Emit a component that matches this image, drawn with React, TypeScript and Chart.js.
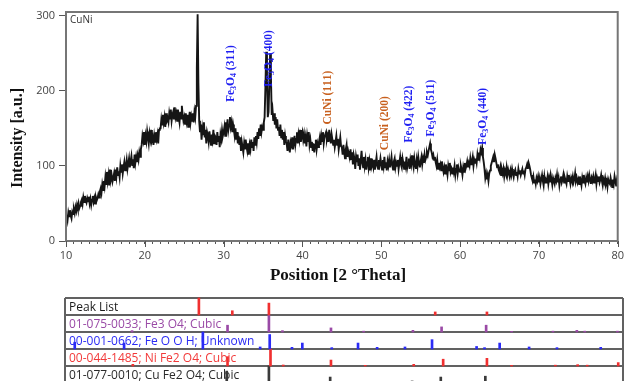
import React, { useEffect, useRef } from 'react';
import { Chart, registerables } from 'chart.js';

Chart.register(...registerables);

// ---------------- main XRD pattern ----------------
const X_START = 10;
const X_STEP = 0.1;
// intensity every 0.1 deg 2theta, 10.0 .. 80.0
const INTENSITY: number[] = [
  30, 35, 28, 38, 33, 41, 34, 30, 39, 36, // 10
  42, 37, 45, 40, 48, 43, 50, 44, 47, 52, // 11
  55, 49, 58, 52, 60, 54, 51, 57, 53, 59, // 12
  50, 56, 48, 55, 60, 52, 57, 50, 58, 54, // 13
  57, 62, 58, 66, 70, 64, 75, 68, 80, 73, // 14
  85, 76, 92, 80, 88, 74, 95, 82, 87, 79, // 15
  84, 90, 80, 95, 86, 98, 88, 93, 85, 100, // 16
  92, 102, 90, 98, 105, 94, 100, 108, 96, 103, // 17
  110, 98, 106, 113, 101, 109, 97, 115, 104, 112, // 18
  105, 114, 108, 118, 112, 122, 128, 140, 134, 145, // 19
  128, 140, 133, 146, 138, 130, 143, 136, 148, 134, // 20
  138, 128, 140, 132, 145, 136, 142, 130, 148, 150, // 21
  150, 162, 155, 168, 158, 165, 152, 170, 160, 163, // 22
  158, 170, 163, 175, 160, 168, 172, 162, 178, 165, // 23
  170, 160, 175, 165, 158, 172, 163, 180, 168, 160, // 24
  165, 156, 170, 160, 168, 152, 163, 172, 158, 166, // 25
  160, 170, 158, 172, 165, 180, 230, 302, 210, 160, // 26
  145, 155, 135, 150, 142, 158, 138, 148, 130, 145, // 27
  140, 132, 146, 136, 128, 142, 135, 148, 130, 140, // 28
  138, 128, 145, 133, 140, 125, 142, 136, 148, 140, // 29
  145, 152, 140, 158, 150, 162, 148, 155, 165, 152, // 30
  158, 145, 155, 148, 140, 150, 135, 145, 130, 140, // 31
  128, 138, 120, 132, 125, 118, 130, 122, 135, 126, // 32
  120, 130, 115, 128, 122, 135, 125, 132, 120, 138, // 33
  128, 140, 132, 145, 136, 150, 140, 155, 145, 152, // 34
  148, 158, 165, 205, 252, 215, 165, 172, 210, 250, // 35
  220, 168, 175, 160, 170, 155, 165, 150, 162, 148, // 36
  152, 140, 155, 138, 148, 135, 145, 128, 140, 132, // 37
  130, 120, 135, 125, 118, 132, 128, 138, 122, 130, // 38
  140, 128, 136, 145, 130, 142, 135, 148, 132, 140, // 39
  145, 135, 142, 130, 138, 126, 140, 132, 145, 128, // 40
  135, 125, 132, 120, 130, 118, 128, 135, 122, 130, // 41
  125, 132, 138, 128, 140, 133, 145, 130, 138, 142, // 42
  145, 135, 140, 132, 148, 138, 130, 142, 135, 128, // 43
  135, 125, 132, 140, 128, 136, 122, 130, 138, 126, // 44
  125, 115, 128, 118, 110, 122, 128, 112, 120, 115, // 45
  112, 122, 108, 118, 102, 115, 110, 96, 112, 105, // 46
  115, 100, 110, 95, 108, 120, 104, 98, 112, 100, // 47
  108, 95, 105, 112, 98, 106, 94, 110, 100, 104, // 48
  98, 108, 95, 104, 112, 100, 96, 108, 102, 110, // 49
  102, 95, 108, 100, 112, 98, 105, 94, 106, 100, // 50
  108, 98, 104, 112, 100, 95, 106, 110, 98, 104, // 51
  100, 108, 96, 104, 112, 102, 98, 110, 104, 96, // 52
  106, 100, 112, 98, 104, 110, 96, 108, 102, 114, // 53
  104, 98, 110, 102, 96, 108, 100, 112, 104, 98, // 54
  106, 112, 102, 110, 104, 115, 108, 112, 118, 114, // 55
  120, 125, 130, 122, 118, 112, 115, 108, 112, 105, // 56
  100, 108, 96, 104, 98, 102, 94, 106, 98, 92, // 57
  98, 90, 102, 95, 88, 100, 94, 104, 92, 96, // 58
  90, 98, 92, 100, 88, 96, 102, 90, 98, 94, // 59
  92, 100, 95, 88, 98, 92, 104, 96, 100, 106, // 60
  98, 104, 100, 110, 102, 106, 112, 100, 108, 104, // 61
  110, 104, 115, 108, 118, 112, 122, 118, 124, 112, // 62
  105, 96, 84, 90, 82, 88, 80, 90, 94, 100, // 63
  104, 108, 112, 105, 115, 110, 104, 98, 102, 95, // 64
  92, 98, 88, 95, 90, 96, 86, 94, 90, 98, // 65
  88, 95, 90, 86, 94, 88, 96, 90, 85, 92, // 66
  95, 88, 92, 86, 96, 90, 94, 88, 92, 96, // 67
  90, 94, 88, 96, 98, 102, 96, 104, 100, 95, // 68
  88, 84, 80, 86, 78, 82, 76, 84, 80, 86, // 69
  78, 84, 76, 82, 88, 80, 74, 86, 78, 82, // 70
  80, 86, 76, 84, 78, 88, 82, 75, 84, 80, // 71
  76, 84, 80, 88, 78, 84, 74, 82, 86, 78, // 72
  82, 88, 78, 84, 80, 76, 86, 80, 88, 82, // 73
  76, 84, 80, 86, 78, 82, 90, 80, 84, 78, // 74
  82, 76, 86, 80, 74, 84, 78, 88, 80, 76, // 75
  84, 78, 86, 80, 88, 82, 76, 84, 80, 86, // 76
  78, 82, 88, 76, 84, 80, 86, 78, 82, 88, // 77
  80, 74, 82, 78, 84, 76, 80, 72, 82, 78, // 78
  76, 84, 78, 72, 82, 76, 86, 80, 74, 82, // 79
  88, // 80
];

const X_MIN = 10;
const X_MAX = 80;
const Y_MIN = 0;
const Y_MAX = 305;
const X_MAJOR_TICKS = [10, 20, 30, 40, 50, 60, 70, 80];
const Y_TICKS = [0, 100, 200, 300];

const SAMPLE_NAME = 'CuNi';
const X_TITLE = 'Position [2 °Theta]';
const Y_TITLE = 'Intensity [a.u.]';

// peak annotations ("_" marks a subscript digit)
const ANNOT_LABELS = ['Fe_3O_4 (311)', 'Fe_3O_4 (400)', 'CuNi (111)', 'CuNi (200)', 'Fe_3O_4 (422)', 'Fe_3O_4 (511)', 'Fe_3O_4 (440)'];
const ANNOT_POS = [30.9, 35.8, 43.2, 50.5, 53.5, 56.3, 62.9];
const ANNOT_BASE = [185, 205, 155, 121, 131, 139, 128];
const ANNOT_COLORS = ['#1f1ff2', '#1f1ff2', '#c8601e', '#c8601e', '#1f1ff2', '#1f1ff2', '#1f1ff2'];

// ---------------- peak list / reference patterns ----------------
const ROW_LABELS = [
  'Peak List',
  '01-075-0033; Fe3 O4; Cubic',
  '00-001-0662; Fe O O H; Unknown',
  '00-044-1485; Ni Fe2 O4; Cubic',
  '01-077-0010; Cu Fe2 O4; Cubic',
];
const ROW_COLORS = ['#1a1a1a', '#9a4aa6', '#2b2bf5', '#f23a3a', '#2a2a2a'];
const STICK_COLORS = ['#f03030', '#9a4aa6', '#2b2bf5', '#f03030', '#3a3a3a'];

const PEAKLIST_POS = [26.7, 30.9, 35.5, 56.4, 62.9];
const PEAKLIST_H = [1.0, 0.25, 0.7, 0.18, 0.18];

const FE3O4_POS = [18.3, 30.3, 35.5, 37.2, 43.3, 47.4, 53.6, 57.2, 62.8, 66.0, 71.2, 74.2, 75.2, 79.3];
const FE3O4_H = [0.08, 0.4, 1.0, 0.08, 0.24, 0.05, 0.1, 0.3, 0.4, 0.04, 0.05, 0.1, 0.05, 0.05];

const FEOOH_POS = [11.1, 17.3, 27.2, 34.4, 35.6, 38.4, 39.7, 43.4, 46.7, 49.1, 52.6, 56.0, 61.6, 62.6, 64.5, 68.2, 71.7, 77.2];
const FEOOH_H = [0.4, 0.35, 1.0, 0.12, 0.85, 0.1, 0.35, 0.08, 0.35, 0.1, 0.12, 0.55, 0.15, 0.08, 0.35, 0.12, 0.08, 0.1];

const NIFE2O4_POS = [18.4, 30.3, 35.7, 37.3, 43.3, 47.6, 53.7, 57.4, 62.9, 66.0, 71.5, 74.3, 75.5, 79.4];
const NIFE2O4_H = [0.1, 0.55, 1.0, 0.06, 0.35, 0.04, 0.1, 0.4, 0.45, 0.04, 0.05, 0.08, 0.05, 0.2];

const CUFE2O4_POS = [18.3, 30.2, 35.5, 37.1, 43.2, 53.5, 57.1, 62.7, 74.0];
const CUFE2O4_H = [0.1, 0.7, 1.0, 0.08, 0.35, 0.12, 0.35, 0.4, 0.1];

const ROW_POS = [PEAKLIST_POS, FE3O4_POS, FEOOH_POS, NIFE2O4_POS, CUFE2O4_POS];
const ROW_H = [PEAKLIST_H, FE3O4_H, FEOOH_H, NIFE2O4_H, CUFE2O4_H];

const SERIF = '"Liberation Serif", "Times New Roman", serif';
const SANS = '"Open Sans", "Noto Sans", sans-serif';

function drawRotatedLabel(ctx: CanvasRenderingContext2D, text: string, x: number, y: number, color: string) {
  ctx.save();
  ctx.translate(x, y);
  ctx.rotate(-Math.PI / 2);
  ctx.fillStyle = color;
  ctx.textBaseline = 'middle';
  ctx.textAlign = 'left';
  let cx = 0;
  for (let i = 0; i < text.length; i++) {
    const ch = text[i];
    if (ch === '_' && i + 1 < text.length) {
      const s = text[i + 1];
      i++;
      ctx.font = `bold 8px ${SERIF}`;
      ctx.fillText(s, cx, 3);
      cx += ctx.measureText(s).width;
    } else {
      ctx.font = `bold 11.5px ${SERIF}`;
      ctx.fillText(ch, cx, 0);
      cx += ctx.measureText(ch).width;
    }
  }
  ctx.restore();
}

const mainPlugin = {
  id: 'mainDeco',
  afterDraw(chart: any) {
    const { ctx, chartArea } = chart;
    const xs = chart.scales.x;
    const ys = chart.scales.y;
    ctx.save();
    // frame
    ctx.strokeStyle = '#767676';
    ctx.lineWidth = 2;
    ctx.strokeRect(chartArea.left, chartArea.top, chartArea.right - chartArea.left, chartArea.bottom - chartArea.top);
    // major x ticks
    ctx.strokeStyle = '#555';
    ctx.lineWidth = 1;
    X_MAJOR_TICKS.forEach((v) => {
      const px = Math.round(xs.getPixelForValue(v)) + 0.5;
      ctx.beginPath();
      ctx.moveTo(px, chartArea.bottom);
      ctx.lineTo(px, chartArea.bottom + 6);
      ctx.stroke();
    });
    // sample name
    ctx.fillStyle = '#333';
    ctx.font = `10px ${SANS}`;
    ctx.textAlign = 'left';
    ctx.textBaseline = 'middle';
    ctx.fillText(SAMPLE_NAME, chartArea.left + 4, chartArea.top + 8);
    // axis titles
    ctx.fillStyle = '#111';
    ctx.font = `bold 17px ${SERIF}`;
    ctx.textAlign = 'center';
    ctx.fillText(X_TITLE, 338, 276);
    ctx.save();
    ctx.font = `bold 16px ${SERIF}`;
    ctx.translate(18, 138);
    ctx.rotate(-Math.PI / 2);
    ctx.fillText(Y_TITLE, 0, 0);
    ctx.restore();
    // annotations
    ANNOT_LABELS.forEach((t, i) => {
      drawRotatedLabel(ctx, t, xs.getPixelForValue(ANNOT_POS[i]), ys.getPixelForValue(ANNOT_BASE[i]), ANNOT_COLORS[i]);
    });
    ctx.restore();
  },
};

const tablePlugin = {
  id: 'peakTable',
  beforeDatasetsDraw(chart: any) {
    const { ctx, chartArea } = chart;
    const ys = chart.scales.y;
    const left = chartArea.left - 1;
    const right = chartArea.right;
    ctx.save();
    ctx.strokeStyle = '#616161';
    ctx.lineWidth = 2;
    const top = ys.getPixelForValue(0);
    ROW_LABELS.forEach((_, i) => {
      const yy = ys.getPixelForValue(i);
      ctx.beginPath();
      ctx.moveTo(left, yy);
      ctx.lineTo(right, yy);
      ctx.stroke();
    });
    ctx.beginPath();
    ctx.moveTo(left, top);
    ctx.lineTo(left, chart.height);
    ctx.moveTo(right, top);
    ctx.lineTo(right, chart.height);
    ctx.stroke();
    ctx.font = `12px ${SANS}`;
    ctx.textAlign = 'left';
    ctx.textBaseline = 'middle';
    ROW_LABELS.forEach((t, i) => {
      ctx.fillStyle = ROW_COLORS[i];
      ctx.fillText(t, left + 4, ys.getPixelForValue(i + 0.5) + 1);
    });
    ctx.restore();
  },
};

export default function App() {
  const mainRef = useRef<HTMLCanvasElement | null>(null);
  const tableRef = useRef<HTMLCanvasElement | null>(null);

  useEffect(() => {
    const points = INTENSITY.map((v, i) => ({ x: Number((X_START + i * X_STEP).toFixed(1)), y: v }));
    const main = new Chart(mainRef.current as HTMLCanvasElement, {
      type: 'line',
      data: {
        datasets: [
          {
            data: points,
            borderColor: '#151515',
            borderWidth: 1.9,
            pointRadius: 0,
            tension: 0,
          },
        ],
      },
      options: {
        animation: false,
        responsive: false,
        layout: { padding: { left: 0, right: 6, top: 12, bottom: 0 } },
        plugins: { legend: { display: false }, tooltip: { enabled: false } },
        scales: {
          x: {
            type: 'linear',
            min: X_MIN,
            max: X_MAX,
            afterFit: (s: any) => {
              s.height = 49;
            },
            ticks: {
              stepSize: 1,
              autoSkip: false,
              maxRotation: 0,
              padding: 5,
              color: '#444',
              font: { family: SANS, size: 11 },
              callback: (v: any) => (X_MAJOR_TICKS.includes(Number(v)) ? String(v) : ''),
            },
            grid: { drawOnChartArea: false, drawTicks: true, tickLength: 3, color: '#555' },
            border: { display: false },
          },
          y: {
            type: 'linear',
            min: Y_MIN,
            max: Y_MAX,
            afterFit: (s: any) => {
              s.width = 66;
            },
            afterBuildTicks: (s: any) => {
              s.ticks = Y_TICKS.map((v) => ({ value: v }));
            },
            ticks: {
              padding: 4,
              color: '#444',
              font: { family: SANS, size: 11 },
            },
            grid: { drawOnChartArea: false, drawTicks: true, tickLength: 7, color: '#555' },
            border: { display: false },
          },
        },
      } as any,
      plugins: [mainPlugin],
    });

    const datasets = ROW_POS.map((pos, i) => ({
      data: pos.map((x, j) => ({ x, y: [i + 1, i + 1 - ROW_H[i][j]] })),
      backgroundColor: STICK_COLORS[i],
      borderWidth: 0,
      barThickness: 2,
      grouped: false,
      clip: false,
    }));
    const table = new Chart(tableRef.current as HTMLCanvasElement, {
      type: 'bar',
      data: { datasets: datasets as any },
      options: {
        animation: false,
        responsive: false,
        layout: { padding: { left: 66, right: 6, top: 8, bottom: 0 } },
        plugins: { legend: { display: false }, tooltip: { enabled: false } },
        scales: {
          x: { type: 'linear', min: X_MIN, max: X_MAX, display: false, offset: false },
          y: { type: 'linear', min: 0, max: 83 / 17, reverse: true, display: false },
        },
      } as any,
      plugins: [tablePlugin],
    });

    return () => {
      main.destroy();
      table.destroy();
    };
  }, []);

  return (
    <div style={{ position: 'absolute', left: 0, top: 0, width: 629, height: 381, background: '#fff', overflow: 'hidden' }}>
      <canvas ref={mainRef} width={629} height={290} style={{ position: 'absolute', left: 0, top: 0 }} />
      <canvas ref={tableRef} width={629} height={91} style={{ position: 'absolute', left: 0, top: 290 }} />
    </div>
  );
}
